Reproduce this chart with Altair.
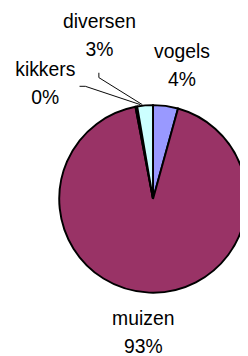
import altair as alt
import pandas as pd

categories = ["vogels", "muizen", "kikkers", "diversen"]
values = [4.3, 92.7, 0.3, 2.7]
colors = ["#9999FF", "#993366", "#FFFFCC", "#CCFFFF"]

total = sum(values)
percents = [f"{round(v / total * 100)}%" for v in values]
df = pd.DataFrame({
    "cat": categories,
    "val": values,
    "idx": list(range(len(categories))),
    "label": [f"{c}\n{p}" for c, p in zip(categories, percents)],
})

CX, CY, R = 150, 191.5, 97
FONT = "Liberation Sans"

base = alt.Chart(df).encode(
    theta=alt.Theta("val:Q", stack=True),
    order=alt.Order("idx:Q"),
    x=alt.value(CX),
    y=alt.value(CY),
)

pie = base.mark_arc(stroke="black", strokeWidth=2, outerRadius=R).encode(
    color=alt.Color("cat:N", scale=alt.Scale(domain=categories, range=colors), legend=None)
)

# label placement: radius from centre and nudge (layout only)
label_layout = {
    "vogels": (136, 11.7, -16.7),
    "muizen": (134, -4.6, -9.4),
    "kikkers": (160, -82.9, 24.4),
    "diversen": (172, -40.8, -11.1),
}

layers = [pie]
for c in categories:
    r, dx, dy = label_layout[c]
    layers.append(
        base.mark_text(radius=r, dx=dx, dy=dy, font=FONT, fontSize=20, lineHeight=29,
                       lineBreak="\n", align="center", baseline="middle", color="black").encode(
            text=alt.condition(f"datum.cat == '{c}'", "label:N", alt.value(""))
        )
    )

one = alt.Chart(pd.DataFrame({"a": [0]}))
leader_segments = [
    (74, 75, 80, 75), (80, 75, 137, 94),   # kikkers
    (94, 61, 94, 66), (94, 66, 139, 94),   # diversen
]
for x1, y1, x2, y2 in leader_segments:
    layers.append(one.mark_rule(color="black", strokeWidth=1).encode(
        x=alt.value(x1), y=alt.value(y1), x2=alt.value(x2), y2=alt.value(y2)))

chart = alt.layer(*layers).properties(
    width=240, height=348, autosize=alt.AutoSizeParams(type="none"), padding=0
).configure_view(stroke=None)

chart.save("out.html", embed_options={"renderer": "svg", "actions": False})
